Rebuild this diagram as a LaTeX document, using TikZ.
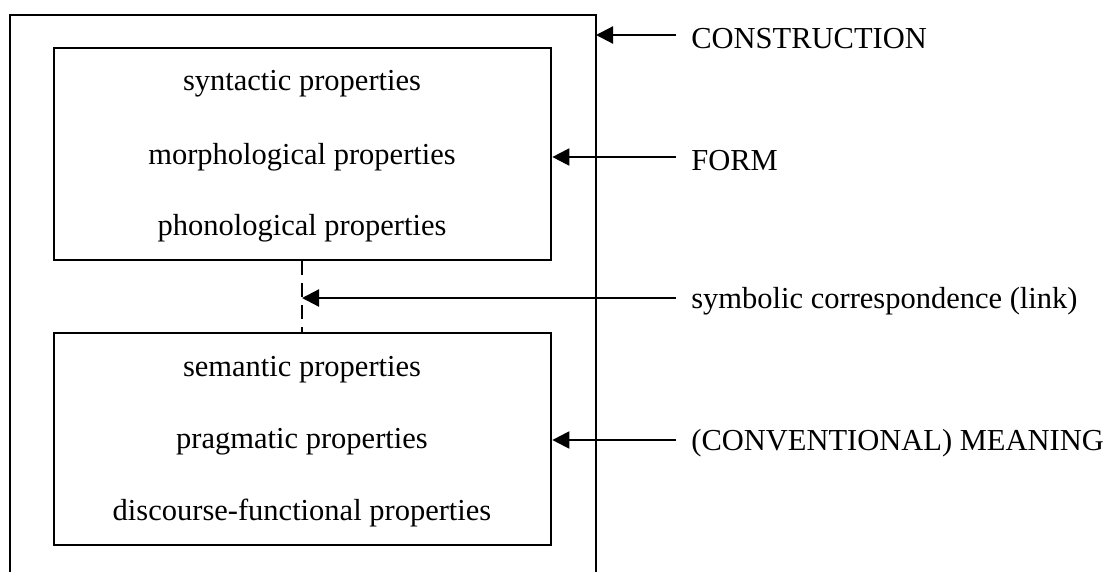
\documentclass[tikz,border=0pt]{standalone}
\usepackage{fontspec}
\setmainfont{Liberation Serif}
\usetikzlibrary{arrows.meta}
\begin{document}
\begin{tikzpicture}[x=1pt,y=-1pt,
  line width=2.7pt,
  box/.style={draw, minimum width=497pt, minimum height=212pt, inner sep=0pt},
  prop/.style={font=\fontsize{30.5}{33}\selectfont, inner sep=0pt},
  lab/.style={font=\fontsize{30.5}{33}\selectfont, anchor=west, inner sep=0pt},
  arr/.style={-{Triangle[length=17pt,width=17pt]}, line width=2.2pt}]
\useasboundingbox (0,0) rectangle (1109,571);
% outer construction box (bottom cut off)
\coordinate (otl) at (10,15);
\coordinate (otr) at (596,15);
\draw (10,580) -- (otl) -- (otr) -- (596,580);
% inner boxes
\node[box] (form) at (302.5,154) {};
\node[box] (mean) at (302.5,439) {};
\node[prop] (p1) at (302,84) {syntactic properties};
\node[prop] (p2) at (302,157) {morphological properties};
\node[prop] (p3) at (302,228) {phonological properties};
\node[prop] (p4) at (302,370) {semantic properties};
\node[prop] (p5) at (302,442) {pragmatic properties};
\node[prop] (p6) at (302,513) {discourse-functional properties};
\draw[dashed, dash pattern=on 14pt off 8pt] (form.south -| 302,0) -- (mean.north -| 302,0);
\coordinate (link) at (302,298);
% labels
\node[lab] (l1) at (690,39) {CONSTRUCTION};
\node[lab] (l2) at (690,161) {FORM};
\node[lab] (l3) at (690,301) {symbolic correspondence (link)};
\node[lab] (l4) at (690,443) {(CONVENTIONAL) MEANING};
\draw[arr] (676,35) -- (otr |- 0,35);
\draw[arr] (676,157) -- (form.east |- 0,157);
\draw[arr] (676,298) -- (link);
\draw[arr] (676,440) -- (mean.east |- 0,440);
\end{tikzpicture}
\end{document}
